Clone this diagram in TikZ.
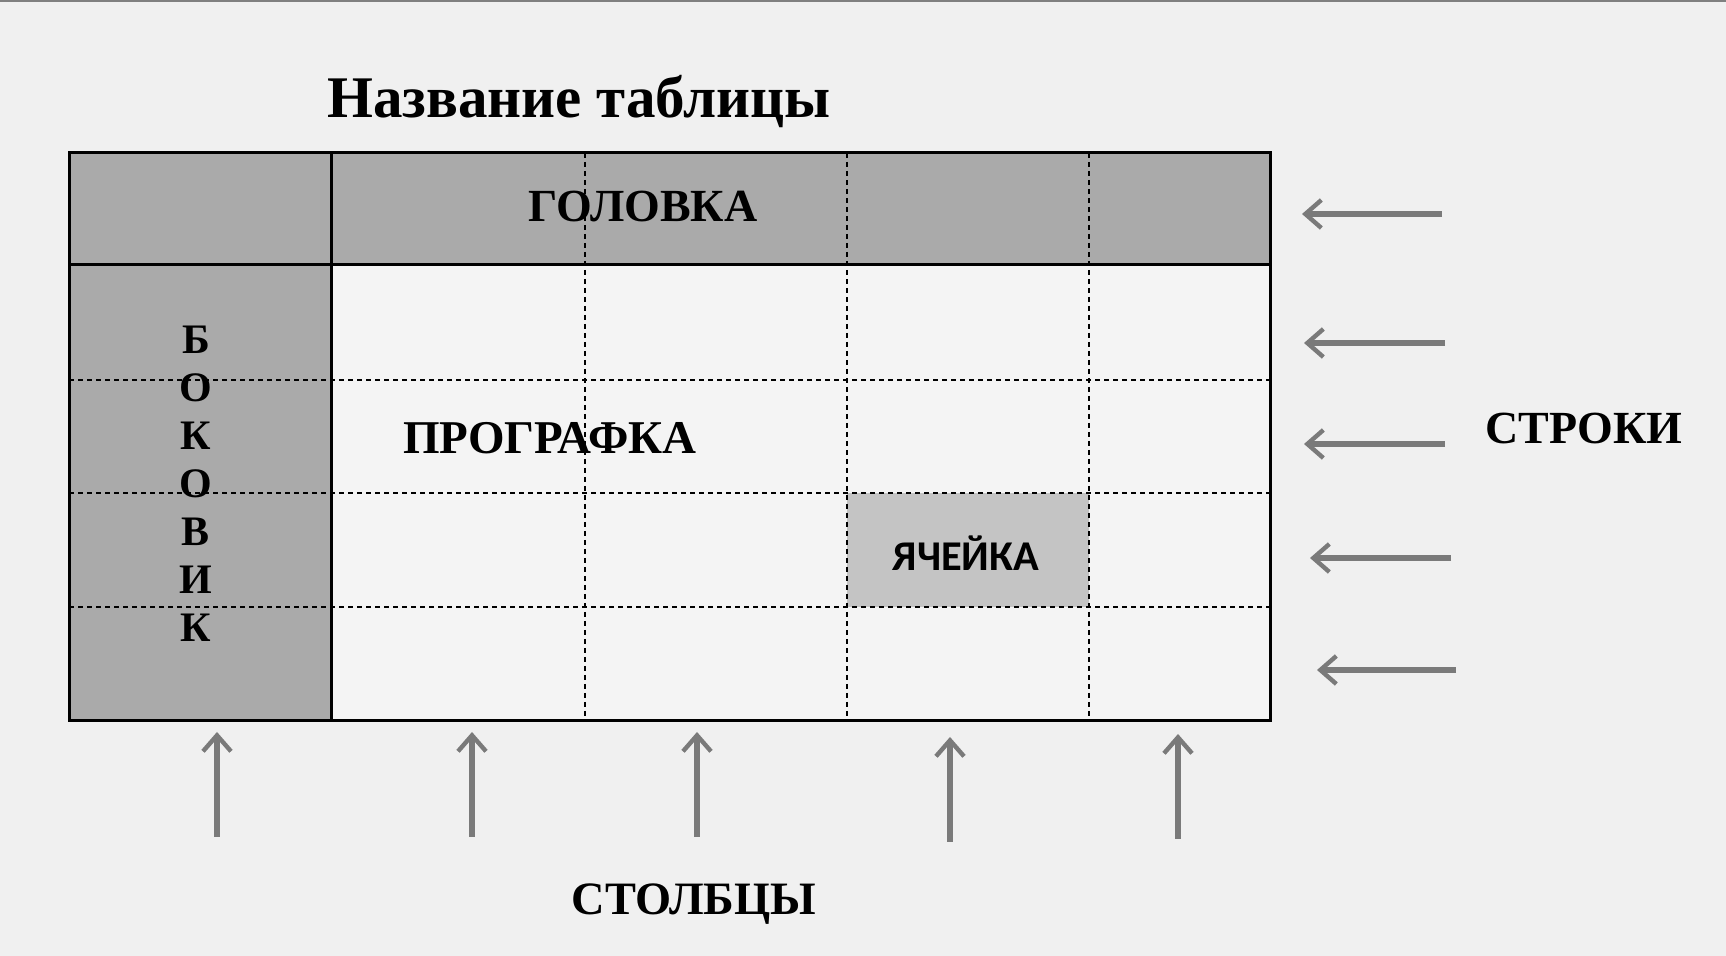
\documentclass[tikz,border=0pt]{standalone}
\usepackage{fontspec}
\setmainfont{Liberation Serif}
\newfontfamily\cellfont{Carlito}
\usetikzlibrary{arrows.meta}
\definecolor{bg}{HTML}{F0F0F0}
\definecolor{bodyc}{HTML}{F4F4F4}
\definecolor{headgray}{HTML}{AAAAAA}
\definecolor{cellgray}{HTML}{C4C4C4}
\definecolor{arrgray}{HTML}{7A7A7A}
\begin{document}
\begin{tikzpicture}[x=0.5pt,y=-0.5pt,
  frame/.style={draw=black,line width=1.5pt},
  gridline/.style={draw=black,line width=1.3pt,dash pattern=on 2.5pt off 2pt},
  pointer/.style={draw=arrgray,line width=2.6pt,-{Straight Barb[length=8pt,width=14pt,line width=2.2pt]}},
  lbl/.style={font=\bfseries\fontsize{23}{28}\selectfont,inner sep=0pt},
]
\fill[bg] (0,0) rectangle (1726,956);
\useasboundingbox (0,0) rectangle (1726,956);
\draw[gray,line width=1pt] (0,1) -- (1726,1);
% table fills
\fill[bodyc] (69,153) rectangle (1270,721);
\fill[headgray] (69,153) rectangle (1270,265);
\fill[headgray] (69,265) rectangle (331,721);
\fill[cellgray] (847,493) rectangle (1089,607);
% dotted grid
\foreach \y in {380,493,607} \draw[gridline] (69,\y) -- (1270,\y);
\foreach \x in {585,847,1089} \draw[gridline] (\x,153) -- (\x,721);
% solid lines
\draw[frame] (69,265) -- (1270,265);
\draw[frame] (331,153) -- (331,721);
\draw[frame] (69,153) rectangle (1270,721);
% texts
\node[lbl,font=\bfseries\fontsize{29.5}{34}\selectfont] (title) at (579,102) {Название таблицы};
\node[lbl] (head) at (643,207) {ГОЛОВКА};
\node[lbl,font=\bfseries\fontsize{23.5}{28}\selectfont] (prog) at (550,438) {ПРОГРАФКА};
\node[lbl,font=\bfseries\fontsize{21}{24}\selectfont,align=center] (side) at (196,484) {Б\\О\\К\\О\\В\\И\\К};
\node[lbl,font=\cellfont\bfseries\fontsize{21.2}{26}\selectfont] (cell) at (966,553) {ЯЧЕЙКА};
\node[lbl] (rows) at (1584,429) {СТРОКИ};
\node[lbl,font=\bfseries\fontsize{23.2}{28}\selectfont] (cols) at (694,904) {СТОЛБЦЫ};
% row arrows
\coordinate (r1s) at (1442,214); \coordinate (r1e) at (1302,214);
\coordinate (r2s) at (1445,343); \coordinate (r2e) at (1304,343);
\coordinate (r3s) at (1445,444); \coordinate (r3e) at (1304,444);
\coordinate (r4s) at (1451,558); \coordinate (r4e) at (1310,558);
\coordinate (r5s) at (1456,670); \coordinate (r5e) at (1317,670);
\foreach \i in {1,...,5} \draw[pointer] (r\i s) -- (r\i e);
% column arrows
\coordinate (c1s) at (217,837); \coordinate (c1e) at (217,732);
\coordinate (c2s) at (472,837); \coordinate (c2e) at (472,732);
\coordinate (c3s) at (697,837); \coordinate (c3e) at (697,732);
\coordinate (c4s) at (950,842); \coordinate (c4e) at (950,737);
\coordinate (c5s) at (1178,839); \coordinate (c5e) at (1178,734);
\foreach \i in {1,...,5} \draw[pointer] (c\i s) -- (c\i e);
\end{tikzpicture}
\end{document}
